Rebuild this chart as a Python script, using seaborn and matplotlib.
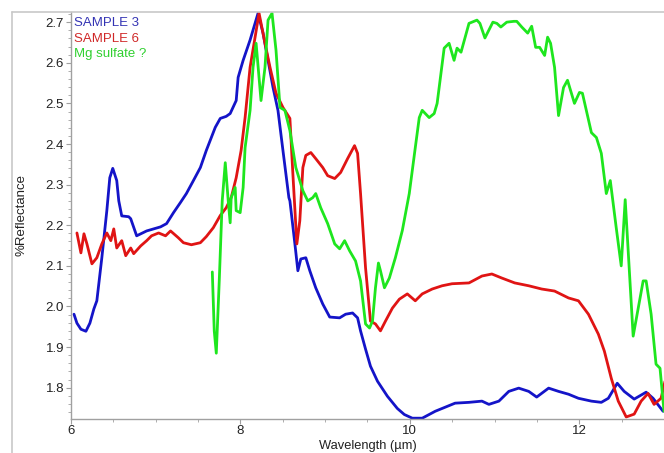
import numpy as np
import pandas as pd
import matplotlib
matplotlib.use("Agg")
import matplotlib.pyplot as plt
import seaborn as sns
from matplotlib.ticker import MultipleLocator

sns.set_style("ticks")
plt.rcParams['font.family'] = ['Liberation Sans', 'DejaVu Sans']

# ---- data ----
s3_wl = [6.035, 6.070, 6.117, 6.176, 6.223, 6.270, 6.305, 6.364, 6.423, 6.458, 6.493, 6.540, 6.564,
         6.599, 6.681, 6.705, 6.775, 6.893, 7.057, 7.128, 7.210, 7.292, 7.362, 7.445, 7.527, 7.597,
         7.703, 7.762, 7.832, 7.879, 7.950, 7.973, 8.032, 8.114, 8.208, 8.267, 8.326, 8.384, 8.443,
         8.502, 8.572, 8.584, 8.643, 8.678, 8.713, 8.772, 8.819, 8.889, 8.972, 9.054, 9.171, 9.242,
         9.324, 9.383, 9.418, 9.477, 9.535, 9.618, 9.735, 9.852, 9.935, 10.029, 10.146, 10.299,
         10.534, 10.698, 10.851, 10.933, 11.051, 11.168, 11.285, 11.403, 11.497, 11.638, 11.755,
         11.873, 11.990, 12.143, 12.260, 12.343, 12.448, 12.530, 12.648, 12.789, 12.871, 12.989]
s3_refl = [1.981, 1.959, 1.944, 1.939, 1.959, 1.994, 2.014, 2.120, 2.236, 2.317, 2.340, 2.310, 2.260,
           2.223, 2.221, 2.216, 2.174, 2.186, 2.196, 2.204, 2.231, 2.256, 2.278, 2.310, 2.342, 2.384,
           2.441, 2.463, 2.468, 2.475, 2.507, 2.564, 2.606, 2.656, 2.722, 2.673, 2.606, 2.540, 2.483,
           2.384, 2.268, 2.260, 2.154, 2.088, 2.117, 2.120, 2.088, 2.046, 2.006, 1.974, 1.972, 1.981,
           1.984, 1.972, 1.940, 1.895, 1.853, 1.816, 1.779, 1.749, 1.734, 1.725, 1.725, 1.742,
           1.762, 1.764, 1.767, 1.759, 1.767, 1.791, 1.799, 1.791, 1.777, 1.799, 1.791,
           1.784, 1.774, 1.767, 1.764, 1.774, 1.811, 1.791, 1.772, 1.789, 1.774, 1.742]

s6_wl = [6.070, 6.117, 6.153, 6.188, 6.247, 6.305, 6.364, 6.423, 6.470, 6.505, 6.540, 6.599, 6.646,
         6.705, 6.740, 6.822, 6.893, 6.951, 7.034, 7.116, 7.175, 7.268, 7.327, 7.421, 7.527, 7.597,
         7.680, 7.762, 7.832, 7.891, 7.950, 8.008, 8.055, 8.114, 8.173, 8.220, 8.290, 8.349, 8.420,
         8.502, 8.584, 8.619, 8.666, 8.701, 8.737, 8.772, 8.831, 8.889, 8.972, 9.030, 9.113, 9.183,
         9.265, 9.347, 9.383, 9.418, 9.477, 9.535, 9.594, 9.653, 9.712, 9.794, 9.876, 9.970, 10.064,
         10.146, 10.264, 10.381, 10.498, 10.698, 10.851, 10.968, 11.086, 11.238, 11.403, 11.556,
         11.708, 11.873, 11.990, 12.108, 12.225, 12.296, 12.378, 12.460, 12.554, 12.648, 12.730,
         12.812, 12.883, 12.965, 13.012]
s6_refl = [2.181, 2.132, 2.179, 2.154, 2.105, 2.120, 2.154, 2.181, 2.162, 2.191, 2.144, 2.162, 2.125,
           2.144, 2.130, 2.149, 2.162, 2.174, 2.181, 2.174, 2.186, 2.169, 2.157, 2.152, 2.157, 2.172,
           2.194, 2.224, 2.243, 2.268, 2.317, 2.384, 2.465, 2.589, 2.663, 2.722, 2.648, 2.589, 2.525,
           2.490, 2.463, 2.327, 2.154, 2.211, 2.342, 2.372, 2.379, 2.364, 2.342, 2.322, 2.315, 2.330,
           2.364, 2.396, 2.377, 2.278, 2.095, 1.964, 1.957, 1.940, 1.964, 1.996, 2.018, 2.031, 2.014,
           2.031, 2.043, 2.051, 2.056, 2.058, 2.075, 2.080, 2.070, 2.058, 2.051, 2.043,
           2.038, 2.021, 2.014, 1.981, 1.932, 1.890, 1.823, 1.767, 1.728, 1.735, 1.767,
           1.786, 1.759, 1.774, 1.816]

mg_wl = [7.668, 7.691, 7.715, 7.750, 7.785, 7.821, 7.856, 7.879, 7.891, 7.938, 7.950, 7.997, 8.032,
         8.055, 8.114, 8.149, 8.185, 8.243, 8.290, 8.326, 8.373, 8.420, 8.467, 8.525, 8.584, 8.654,
         8.737, 8.795, 8.854, 8.889, 8.948, 9.030, 9.113, 9.171, 9.230, 9.289, 9.359, 9.418, 9.477,
         9.524, 9.559, 9.594, 9.629, 9.653, 9.700, 9.758, 9.829, 9.911, 9.993, 10.064, 10.111,
         10.146, 10.228, 10.287, 10.322, 10.405, 10.463, 10.522, 10.557, 10.604, 10.698, 10.792,
         10.827, 10.886, 10.980, 11.027, 11.074, 11.144, 11.227, 11.262, 11.321, 11.391, 11.438,
         11.485, 11.532, 11.591, 11.626, 11.661, 11.708, 11.755, 11.814, 11.861, 11.943, 12.002,
         12.037, 12.143, 12.202, 12.260, 12.319, 12.366, 12.436, 12.495, 12.542, 12.636, 12.754,
         12.789, 12.848, 12.906, 12.953, 13.000]
mg_refl = [2.085, 1.940, 1.885, 2.063, 2.260, 2.354, 2.260, 2.206, 2.268, 2.293, 2.236, 2.231, 2.293,
           2.391, 2.483, 2.589, 2.648, 2.507, 2.589, 2.705, 2.722, 2.631, 2.490, 2.483, 2.433, 2.342,
           2.285, 2.260, 2.268, 2.278, 2.243, 2.204, 2.154, 2.142, 2.162, 2.137, 2.112, 2.063, 1.957,
           1.947, 1.964, 2.046, 2.107, 2.088, 2.046, 2.070, 2.120, 2.187, 2.278, 2.391, 2.465,
           2.483, 2.465, 2.475, 2.500, 2.636, 2.648, 2.606, 2.636, 2.626, 2.697, 2.705,
           2.697, 2.661, 2.700, 2.697, 2.688, 2.700, 2.702, 2.702, 2.688, 2.673, 2.690,
           2.638, 2.638, 2.618, 2.663, 2.648, 2.589, 2.470, 2.539, 2.557, 2.500, 2.527,
           2.525, 2.428, 2.416, 2.377, 2.278, 2.310, 2.194, 2.100, 2.263, 1.927, 2.063,
           2.063, 1.981, 1.858, 1.848, 1.742]

series_names = ["SAMPLE 3", "SAMPLE 6", "Mg sulfate ?"]
series_colors = ["#1414c8", "#e01414", "#1ee61e"]
label_colors = ["#3434b4", "#d02828", "#30d030"]

x_ticks = [6, 8, 10, 12]
y_ticks = [1.8, 1.9, 2.0, 2.1, 2.2, 2.3, 2.4, 2.5, 2.6, 2.7]

# ---- figure ----
fig = plt.figure(figsize=(6.64, 4.53), dpi=100)
W, H = 664, 453
ax = fig.add_axes([71 / W, 1 - 419 / H, (664 - 71) / W, (419 - 12) / H])

frames = [
    pd.DataFrame({"wl": s3_wl, "refl": s3_refl}),
    pd.DataFrame({"wl": s6_wl, "refl": s6_refl}),
    pd.DataFrame({"wl": mg_wl, "refl": mg_refl}),
]
for df, c in zip(frames, series_colors):
    sns.lineplot(data=df, x="wl", y="refl", ax=ax, color=c, linewidth=2.0,
                 sort=False, estimator=None, legend=False)

ax.set_xlim(6.0, 13.0)
ax.set_ylim(1.723, 2.725)
ax.set_xticks(x_ticks)
ax.set_xticklabels([str(t) for t in x_ticks])
ax.set_yticks(y_ticks)
ax.set_yticklabels([f"{t:.1f}" for t in y_ticks])
ax.xaxis.set_minor_locator(MultipleLocator(0.5))
ax.yaxis.set_minor_locator(MultipleLocator(0.02))

spine_col = "#a0a0a0"
for side in ["top", "right"]:
    ax.spines[side].set_visible(False)
for side in ["left", "bottom"]:
    ax.spines[side].set_color(spine_col)
    ax.spines[side].set_linewidth(1.0)
ax.tick_params(axis="both", which="major", direction="out", length=3.5, width=0.8,
               color=spine_col, labelsize=9.5, labelcolor="#222222", pad=1.5)
ax.tick_params(axis="both", which="minor", direction="out", length=2, width=0.6,
               color=spine_col)
ax.tick_params(axis="x", which="major", pad=1)

ax.set_xlabel("Wavelength (µm)", fontsize=9.3, color="#222222", va="bottom")
ax.xaxis.set_label_coords(0.5, -33 / 407)
ax.set_ylabel("%Reflectance", fontsize=9.5, color="#222222")
ax.yaxis.set_label_coords(-0.073, 0.5)

# legend-like labels
for i, (name, lc) in enumerate(zip(series_names, label_colors)):
    ax.text(0.005, 0.9656 - i * 0.0381, name, transform=ax.transAxes, color=lc,
            fontsize=9.5, ha="left", va="baseline")

# outer light frame
fig.add_artist(plt.Line2D([12 / W, 12 / W], [0, 1 - 12 / H], transform=fig.transFigure,
                          color="#c8c8c8", linewidth=1.2))
fig.add_artist(plt.Line2D([12 / W, 1], [1 - 12 / H, 1 - 12 / H], transform=fig.transFigure,
                          color="#c8c8c8", linewidth=1.2))

fig.savefig("out.png", dpi=100)
